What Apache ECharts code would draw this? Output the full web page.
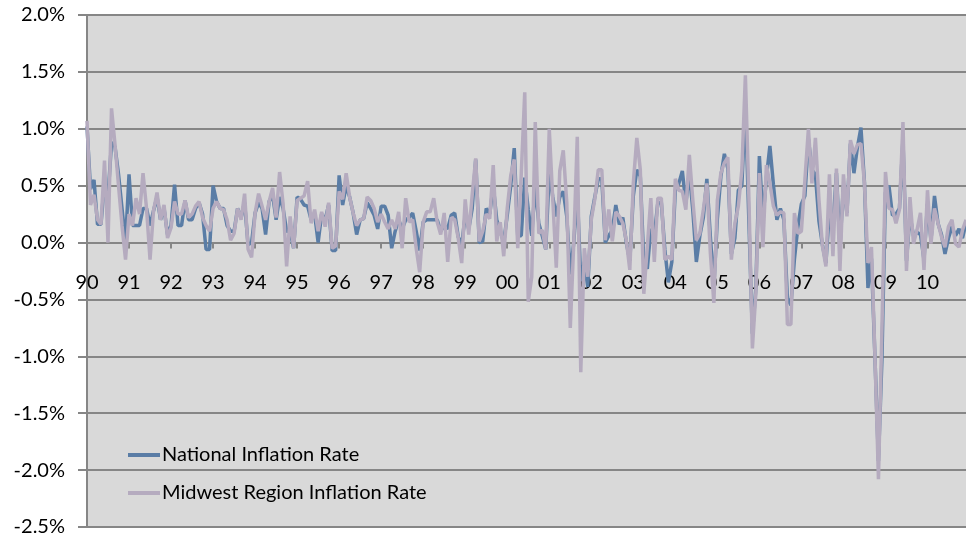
<!DOCTYPE html>
<html><head><meta charset="utf-8">
<script src="https://cdn.jsdelivr.net/npm/echarts@6/dist/echarts.min.js"></script>
<style>html,body{margin:0;padding:0;background:#fff}#c{width:966px;height:539px}</style>
</head><body><div id="c"></div><script>
const yearLabels = ['90','91','92','93','94','95','96','97','98','99','00','01','02','03','04','05','06','07','08','09','10'];
const monthLabels = ['01','02','03','04','05','06','07','08','09','10','11','12'];
const seriesNames = ['National Inflation Rate', 'Midwest Region Inflation Rate'];
const yMin = -2.5, yMax = 2.0, yStep = 0.5;

const nationalRate = [
  1.02, 0.47, 0.55, 0.16, 0.16, 0.54, 0.40, 0.88, 0.84, 0.60, 0.30, 0.00,
  0.60, 0.15, 0.15, 0.15, 0.30, 0.30, 0.15, 0.28, 0.40, 0.20, 0.30, 0.07,
  0.15, 0.51, 0.15, 0.15, 0.37, 0.20, 0.20, 0.30, 0.35, 0.25, -0.06, -0.06,
  0.50, 0.36, 0.30, 0.30, 0.15, 0.10, 0.10, 0.30, 0.22, 0.35, -0.02, 0.00,
  0.26, 0.35, 0.30, 0.07, 0.36, 0.42, 0.20, 0.40, 0.30, 0.10, 0.10, -0.05,
  0.40, 0.38, 0.33, 0.32, 0.20, 0.25, 0.00, 0.25, 0.20, 0.33, -0.07, -0.07,
  0.59, 0.33, 0.50, 0.40, 0.26, 0.07, 0.20, 0.21, 0.35, 0.30, 0.24, 0.12,
  0.32, 0.32, 0.24, -0.05, 0.10, 0.20, 0.12, 0.20, 0.22, 0.26, 0.10, -0.07,
  0.18, 0.20, 0.20, 0.20, 0.20, 0.10, 0.15, 0.12, 0.24, 0.26, 0.05, -0.02,
  0.24, 0.12, 0.30, 0.73, 0.00, 0.01, 0.30, 0.25, 0.50, 0.20, 0.10, 0.00,
  0.24, 0.50, 0.83, 0.06, 0.06, 0.57, 0.29, 0.06, 0.51, 0.17, 0.06, -0.06,
  0.63, 0.40, 0.23, 0.40, 0.45, 0.23, -0.28, 0.00, 0.45, -0.34, -0.17, -0.39,
  0.23, 0.40, 0.56, 0.56, 0.00, 0.06, 0.11, 0.33, 0.16, 0.22, 0.00, -0.16,
  0.41, 0.64, 0.58, -0.17, -0.23, 0.12, 0.06, 0.35, 0.35, -0.06, -0.35, -0.17,
  0.46, 0.52, 0.63, 0.34, 0.62, 0.28, -0.17, 0.06, 0.22, 0.56, 0.05, -0.38,
  0.21, 0.58, 0.78, 0.65, -0.10, 0.04, 0.46, 0.50, 1.22, 0.19, -0.80, -0.40,
  0.76, 0.20, 0.57, 0.85, 0.51, 0.20, 0.30, 0.20, -0.49, -0.55, -0.15, 0.14,
  0.34, 0.41, 0.91, 0.64, 0.60, 0.19, -0.02, -0.18, 0.28, 0.14, 0.61, -0.04,
  0.50, 0.26, 0.87, 0.61, 0.84, 1.01, 0.53, -0.40, -0.14, -1.01, -1.92, -1.02,
  0.44, 0.50, 0.24, 0.25, 0.30, 0.91, -0.16, 0.24, 0.06, 0.09, 0.07, -0.15,
  0.34, 0.02, 0.41, 0.17, 0.07, -0.10, 0.04, 0.14, 0.06, 0.12, 0.04, 0.17
];

const midwestRate = [
  1.07, 0.33, 0.42, 0.20, 0.16, 0.72, 0.00, 1.18, 0.86, 0.50, 0.15, -0.15,
  0.25, 0.15, 0.39, 0.25, 0.61, 0.30, -0.15, 0.28, 0.44, 0.20, 0.33, 0.04,
  0.13, 0.36, 0.25, 0.25, 0.37, 0.22, 0.25, 0.32, 0.36, 0.22, 0.15, 0.10,
  0.30, 0.36, 0.30, 0.29, 0.20, 0.02, 0.08, 0.30, 0.20, 0.43, -0.06, -0.13,
  0.26, 0.43, 0.32, 0.20, 0.36, 0.48, 0.22, 0.62, 0.34, -0.21, 0.23, -0.05,
  0.37, 0.39, 0.41, 0.54, 0.17, 0.29, 0.10, 0.27, 0.14, 0.35, -0.05, -0.03,
  0.45, 0.38, 0.61, 0.40, 0.26, 0.15, 0.20, 0.21, 0.40, 0.37, 0.30, 0.18,
  0.25, 0.18, 0.12, 0.20, 0.12, 0.27, -0.05, 0.39, 0.18, 0.20, -0.05, -0.26,
  0.18, 0.27, 0.27, 0.39, 0.18, 0.07, 0.26, -0.17, 0.22, 0.20, 0.04, -0.18,
  0.38, 0.07, 0.42, 0.74, 0.01, 0.10, 0.25, 0.21, 0.68, 0.01, 0.18, -0.12,
  0.30, 0.59, 0.73, -0.05, 0.60, 1.32, -0.52, -0.30, 1.06, 0.08, 0.11, -0.06,
  1.00, 0.38, -0.22, 0.63, 0.81, 0.35, -0.75, 0.00, 0.93, -1.14, -0.05, -0.30,
  0.20, 0.38, 0.64, 0.64, 0.02, 0.29, 0.01, 0.27, 0.23, 0.17, 0.02, -0.24,
  0.52, 0.92, 0.64, -0.45, -0.04, 0.39, -0.17, 0.39, 0.39, -0.15, -0.12, -0.15,
  0.56, 0.46, 0.45, 0.29, 0.77, 0.37, 0.02, 0.08, 0.29, 0.52, -0.09, -0.53,
  0.37, 0.61, 0.70, 0.75, -0.15, 0.17, 0.32, 0.64, 1.47, 0.40, -0.93, -0.44,
  0.61, -0.04, 0.68, 0.52, 0.32, 0.24, 0.27, 0.26, -0.72, -0.72, 0.26, 0.08,
  0.10, 0.55, 1.00, 0.52, 0.92, 0.38, -0.03, -0.21, 0.60, -0.12, 0.65, -0.25,
  0.60, 0.23, 0.90, 0.78, 0.86, 0.87, 0.52, -0.18, -0.04, -1.00, -2.08, -0.75,
  0.62, 0.30, 0.29, 0.17, 0.29, 1.06, -0.25, 0.40, -0.01, 0.11, 0.26, -0.24,
  0.46, -0.01, 0.30, 0.17, 0.05, -0.04, 0.14, 0.20, -0.01, -0.04, 0.11, 0.20
];

const categories = [];
yearLabels.forEach(y => monthLabels.forEach(m => categories.push(y + '-' + m)));

const FONT = 'Lato, "Liberation Sans", sans-serif';
const GRID = {left: 87, right: 0, top: 15, bottom: 12};
const gridHeight = 539 - GRID.top - GRID.bottom;
// place the label axis at the zero value of the y scale
const zeroOffset = -gridHeight * (0 - yMin) / (yMax - yMin);

const chart = echarts.init(document.getElementById('c'), null, {renderer: 'canvas'});
chart.setOption({
  animation: false,
  backgroundColor: '#ffffff',
  grid: Object.assign({show: true, backgroundColor: '#d9d9d9', borderWidth: 0,
    containLabel: false, outerBoundsMode: 'none'}, GRID),
  legend: {
    orient: 'vertical', left: 128, top: 445, padding: 0,
    itemWidth: 32, itemHeight: 4, itemGap: 18,
    icon: 'rect',
    textStyle: {fontFamily: FONT, fontSize: 20, color: '#000', lineHeight: 20, padding: [0, 0, 0, -3]},
    data: seriesNames
  },
  xAxis: [{
    type: 'category', data: categories, boundaryGap: false,
    axisLine: {onZero: true, lineStyle: {color: '#868686', width: 2}},
    axisTick: {show: true, interval: 11, length: 6, lineStyle: {color: '#868686', width: 2}},
    axisLabel: {show: false},
    splitLine: {show: false}
  }, {
    type: 'category', data: categories, boundaryGap: false, position: 'bottom',
    offset: zeroOffset,
    axisLine: {show: false, onZero: false},
    axisTick: {show: false},
    axisLabel: {interval: 11, formatter: v => v.slice(0, 2), color: '#000', fontFamily: FONT, fontSize: 20, margin: 30},
    splitLine: {show: false}
  }],
  yAxis: {
    type: 'value', min: yMin, max: yMax, interval: yStep,
    axisLine: {show: true, lineStyle: {color: '#868686', width: 2}},
    axisTick: {show: true, length: 9, lineStyle: {color: '#868686', width: 2}},
    axisLabel: {formatter: v => v.toFixed(1) + '%', color: '#000', fontFamily: FONT, fontSize: 20, margin: 22},
    splitLine: {show: true, lineStyle: {color: '#868686', width: 2}}
  },
  series: [
    {name: seriesNames[0], type: 'line', data: nationalRate, symbol: 'none', color: '#5a7da6',
     lineStyle: {width: 3.5, color: '#5a7da6'}},
    {name: seriesNames[1], type: 'line', data: midwestRate, symbol: 'none', color: '#b5abbf',
     lineStyle: {width: 3.5, color: '#b5abbf'}}
  ]
});
</script></body></html>
